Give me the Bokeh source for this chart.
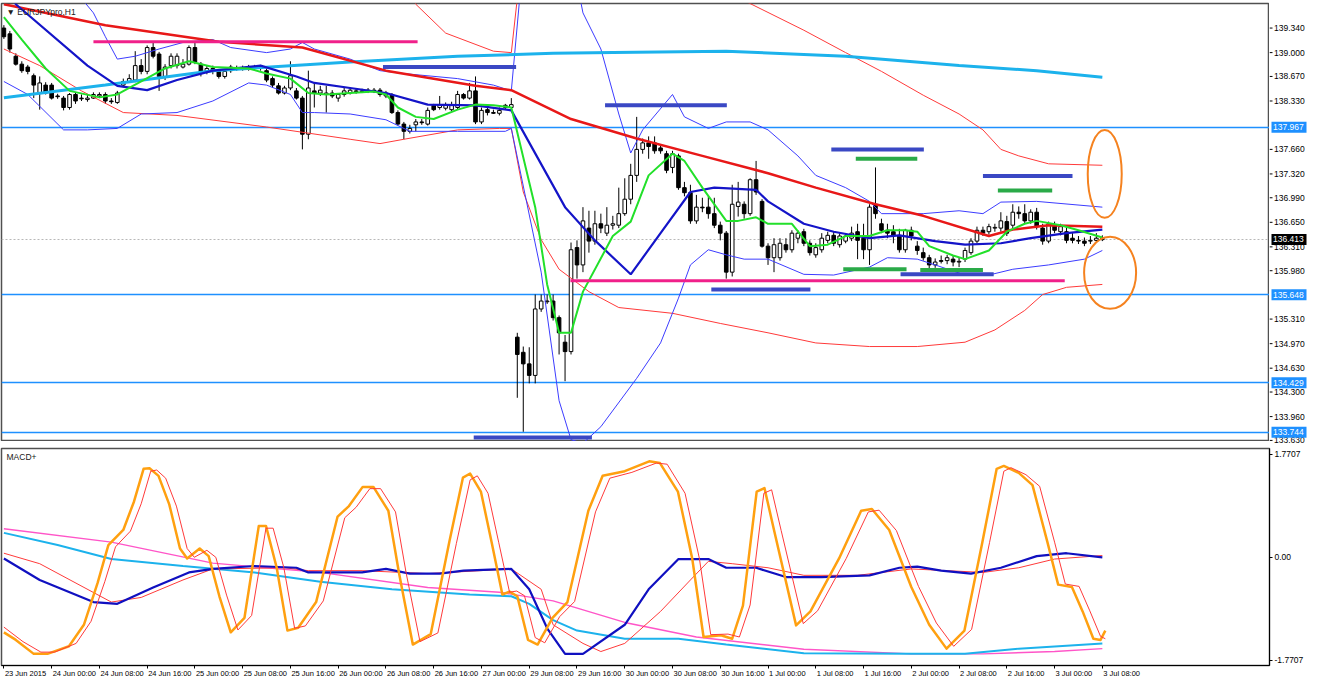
from bokeh.plotting import figure
from bokeh.models import Range1d, FixedTicker, LinearAxis
from bokeh.layouts import column, row
from bokeh.core.properties import value
from bokeh.embed import file_html
from bokeh.resources import INLINE

FONT = "Liberation Sans"

# ---------------- candles (EURJPY H1) ----------------
opens = [
    139.34, 139.26, 138.95, 138.84, 138.80, 138.68, 138.44, 138.55, 138.55, 138.40,
    138.37, 138.24, 138.42, 138.37, 138.35, 138.37, 138.40, 138.42, 138.33, 138.31,
    138.55, 138.60, 138.62, 138.82, 138.74, 139.07, 138.98, 138.67, 138.82, 138.82,
    138.80, 138.84, 139.07, 138.84, 138.74, 138.78, 138.74, 138.67, 138.75, 138.78,
    138.78, 138.79, 138.78, 138.78, 138.75, 138.64, 138.54, 138.44, 138.51, 138.47,
    138.37, 137.87, 138.47, 138.44, 138.42, 138.44, 138.37, 138.42, 138.44, 138.46,
    138.47, 138.47, 138.48, 138.48, 138.40, 138.42, 138.17, 138.01, 137.91, 138.00,
    138.04, 138.01, 138.27, 138.24, 138.23, 138.21, 138.24, 138.42, 138.37, 138.47,
    138.04, 138.21, 138.17, 138.16, 138.24, 138.24, 135.06, 134.85, 134.69, 134.53,
    135.45, 135.55, 135.56, 135.33, 134.99, 134.86, 136.30, 136.06, 136.57, 136.39,
    136.63, 136.50, 136.61, 136.61, 136.77, 136.97, 137.30, 137.66, 137.75, 137.75,
    137.68, 137.60, 137.41, 137.57, 137.13, 137.06, 136.67, 136.86, 136.86, 136.77,
    136.61, 136.50, 135.96, 136.87, 136.90, 136.77, 137.24, 136.94, 136.32, 136.16,
    136.16, 136.34, 136.27, 136.43, 136.52, 136.36, 136.20, 136.27, 136.40, 136.47,
    136.34, 136.39, 136.43, 136.52, 136.43, 136.27, 136.90, 136.63, 136.54, 136.52,
    136.47, 136.27, 136.54, 136.32, 136.23, 136.16, 136.06, 136.12, 136.12, 136.14,
    136.10, 136.14, 136.23, 136.39, 136.54, 136.52, 136.57, 136.57, 136.66, 136.61,
    136.79, 136.77, 136.67, 136.79, 136.57, 136.39, 136.61, 136.52, 136.52, 136.43,
    136.40, 136.39, 136.39, 136.40, 136.43,
]
highs = [
    139.38, 139.30, 138.99, 138.88, 138.83, 138.71, 138.67, 138.59, 138.58, 138.43,
    138.40, 138.44, 138.45, 138.42, 138.42, 138.45, 138.45, 138.45, 138.37, 138.47,
    138.64, 138.70, 139.02, 138.91, 139.10, 139.14, 139.01, 138.84, 138.99, 138.99,
    138.91, 139.10, 139.14, 138.87, 138.82, 138.82, 138.76, 138.76, 138.83, 138.82,
    138.82, 138.83, 138.83, 138.83, 138.78, 138.67, 138.58, 138.54, 138.88, 138.51,
    138.40, 138.75, 138.58, 138.54, 138.54, 138.48, 138.44, 138.51, 138.52, 138.50,
    138.50, 138.51, 138.51, 138.51, 138.47, 138.44, 138.20, 138.04, 138.00, 138.08,
    138.08, 138.24, 138.29, 138.40, 138.31, 138.32, 138.47, 138.44, 138.58, 138.67,
    138.24, 138.24, 138.21, 138.24, 138.29, 138.37, 135.12, 134.93, 134.92, 135.65,
    135.65, 135.65, 135.65, 135.36, 135.09, 136.37, 136.40, 136.86, 136.81, 136.81,
    136.77, 136.86, 136.74, 137.13, 137.26, 137.46, 138.11, 137.81, 137.84, 137.84,
    137.73, 137.64, 137.64, 137.60, 137.21, 137.17, 137.03, 136.99, 137.01, 136.99,
    136.66, 136.53, 137.17, 137.21, 136.94, 137.26, 137.50, 136.97, 136.36, 136.43,
    136.43, 136.43, 136.54, 136.54, 136.56, 136.40, 136.36, 136.50, 136.52, 136.52,
    136.50, 136.50, 136.59, 136.63, 136.63, 136.90, 137.41, 136.70, 136.63, 136.61,
    136.56, 136.56, 136.59, 136.39, 136.30, 136.20, 136.15, 136.19, 136.20, 136.19,
    136.16, 136.30, 136.43, 136.59, 136.59, 136.63, 136.63, 136.79, 136.74, 136.90,
    136.87, 136.90, 136.83, 136.85, 136.63, 136.66, 136.66, 136.63, 136.58, 136.50,
    136.46, 136.44, 136.46, 136.50, 136.47,
]
lows = [
    139.19, 139.00, 138.82, 138.72, 138.70, 138.37, 138.21, 138.42, 138.35, 138.36,
    138.20, 138.21, 138.29, 138.33, 138.32, 138.36, 138.37, 138.29, 138.29, 138.29,
    138.52, 138.59, 138.59, 138.70, 138.70, 138.92, 138.47, 138.62, 138.78, 138.78,
    138.78, 138.82, 138.84, 138.67, 138.70, 138.70, 138.64, 138.64, 138.72, 138.75,
    138.75, 138.75, 138.76, 138.75, 138.59, 138.51, 138.42, 138.42, 138.48, 138.35,
    137.66, 137.80, 138.24, 138.40, 138.17, 138.37, 138.32, 138.39, 138.42, 138.43,
    138.44, 138.44, 138.44, 138.39, 138.37, 138.15, 137.99, 137.80, 137.88, 137.91,
    138.00, 137.99, 138.19, 138.21, 138.20, 138.19, 138.21, 138.35, 138.35, 138.01,
    138.01, 138.13, 138.15, 138.13, 138.21, 138.21, 134.22, 133.75, 134.42, 134.42,
    135.41, 135.52, 135.29, 134.82, 134.45, 134.82, 135.87, 135.96, 136.23, 136.34,
    136.50, 136.46, 136.55, 136.57, 136.74, 136.90, 137.21, 137.60, 137.53, 137.60,
    137.60, 137.33, 137.33, 137.10, 137.01, 136.63, 136.63, 136.79, 136.70, 136.57,
    136.40, 135.87, 135.90, 136.73, 136.70, 136.74, 137.03, 136.30, 136.06, 135.96,
    136.12, 136.23, 136.23, 136.36, 136.32, 136.19, 136.16, 136.23, 136.36, 136.32,
    136.30, 136.36, 136.39, 136.14, 136.14, 136.06, 136.70, 136.50, 136.43, 136.36,
    136.23, 136.23, 136.40, 136.20, 136.12, 136.00, 136.02, 136.08, 136.07, 136.04,
    136.03, 136.10, 136.20, 136.36, 136.46, 136.48, 136.52, 136.52, 136.46, 136.57,
    136.70, 136.63, 136.63, 136.55, 136.34, 136.36, 136.50, 136.47, 136.36, 136.36,
    136.35, 136.32, 136.35, 136.38, 136.39,
]
closes = [
    139.22, 139.05, 138.84, 138.75, 138.74, 138.55, 138.58, 138.44, 138.37, 138.39,
    138.24, 138.42, 138.33, 138.36, 138.37, 138.42, 138.42, 138.33, 138.32, 138.44,
    138.60, 138.64, 138.82, 138.74, 139.07, 138.95, 138.67, 138.80, 138.95, 138.95,
    138.84, 139.07, 138.87, 138.71, 138.78, 138.74, 138.67, 138.74, 138.80, 138.77,
    138.79, 138.78, 138.80, 138.80, 138.62, 138.55, 138.44, 138.51, 138.68, 138.37,
    137.87, 138.51, 138.44, 138.48, 138.44, 138.40, 138.42, 138.47, 138.48, 138.47,
    138.46, 138.48, 138.47, 138.42, 138.44, 138.17, 138.01, 137.91, 137.95, 138.04,
    138.03, 138.20, 138.21, 138.28, 138.27, 138.28, 138.42, 138.37, 138.47, 138.04,
    138.20, 138.17, 138.16, 138.20, 138.27, 138.28, 134.82, 134.69, 134.53, 135.45,
    135.56, 135.56, 135.33, 135.12, 134.86, 136.27, 136.06, 136.67, 136.39, 136.63,
    136.57, 136.61, 136.63, 136.77, 136.97, 137.30, 137.66, 137.75, 137.70, 137.64,
    137.64, 137.37, 137.60, 137.13, 137.06, 136.67, 136.86, 136.85, 136.77, 136.61,
    136.50, 135.96, 136.90, 136.93, 136.77, 137.24, 137.07, 136.32, 136.16, 136.34,
    136.36, 136.27, 136.50, 136.50, 136.36, 136.23, 136.30, 136.43, 136.47, 136.36,
    136.46, 136.46, 136.50, 136.40, 136.27, 136.86, 136.77, 136.54, 136.50, 136.47,
    136.27, 136.54, 136.46, 136.26, 136.16, 136.06, 136.10, 136.11, 136.16, 136.10,
    136.11, 136.26, 136.39, 136.54, 136.50, 136.59, 136.58, 136.67, 136.50, 136.79,
    136.77, 136.67, 136.79, 136.59, 136.39, 136.63, 136.54, 136.59, 136.40, 136.40,
    136.39, 136.36, 136.40, 136.43, 136.41,
]

# ---------------- price-panel indicator lines (bar index, price) ----------------
red_ma_x = [0, 17, 36, 50, 64, 79, 85, 95, 106, 117, 128, 136, 146, 154, 165, 169, 175, 184]
red_ma_y = [139.67, 139.38, 139.15, 139.07, 138.75, 138.54, 138.48, 138.08, 137.81, 137.57,
            137.33, 137.13, 136.90, 136.74, 136.46, 136.55, 136.61, 136.59]

blue_ma_x = [0, 2, 14, 19, 24, 29, 35, 43, 49, 52, 58, 64, 71, 79, 85, 94, 99, 105, 110, 115,
             119, 126, 128, 134, 139, 145, 150, 156, 161, 167, 172, 178, 184]
blue_ma_y = [139.95, 139.67, 138.82, 138.54, 138.48, 138.62, 138.75, 138.82, 138.67, 138.58,
             138.51, 138.44, 138.28, 138.27, 138.20, 136.86, 136.40, 135.93, 136.50, 137.07,
             137.13, 137.10, 136.94, 136.63, 136.52, 136.43, 136.47, 136.39, 136.34, 136.36,
             136.43, 136.50, 136.55]

green_ma_x = [0, 3, 7, 11, 16, 19, 23, 27, 31, 35, 41, 44, 48, 51, 54, 58, 62, 64, 66,
              69, 72, 76, 79, 82, 85, 89, 91, 93, 95, 97, 102, 105, 108, 112, 114, 117, 121, 123, 126,
              128, 132, 135, 138, 141, 145, 148, 151, 153, 155, 159, 161, 165, 168, 171, 173, 177, 180, 184]
green_ma_y = [139.49, 139.18, 138.78, 138.47, 138.38, 138.42, 138.60, 138.78, 138.88, 138.80,
              138.78, 138.71, 138.64, 138.44, 138.42, 138.44, 138.46, 138.42, 138.24,
              138.11, 138.08, 138.21, 138.28, 138.27, 138.24, 136.86, 135.79, 135.12, 135.12,
              135.69, 136.46, 136.66, 137.30, 137.60, 137.50, 137.13, 136.67, 136.67, 136.72,
              136.63, 136.63, 136.32, 136.34, 136.46, 136.46, 136.54, 136.54, 136.52, 136.32,
              136.19, 136.14, 136.26, 136.52, 136.63, 136.67, 136.61, 136.54, 136.44]

cyan_ma_x = [0, 17, 35, 58, 76, 92, 102, 121, 141, 160, 173, 184]
cyan_ma_y = [138.375, 138.55, 138.75, 138.87, 138.95, 138.99, 139.00, 139.02, 138.95, 138.82,
             138.75, 138.66]

bb_up_x = [13, 15, 17, 19, 22, 26, 30, 35, 38, 44, 48, 50, 52, 58, 63, 67, 76, 82, 85, 87,
           90, 94, 97, 100, 103, 105, 107, 112, 114, 118, 121, 125, 128, 133, 136, 141, 145, 147,
           154, 160, 164, 167, 173, 184]
bb_up_y = [139.75, 139.55, 139.22, 138.91, 138.95, 139.05, 139.14, 139.18, 139.07, 139.00,
           139.05, 139.14, 139.05, 138.91, 138.75, 138.71, 138.64, 138.55, 138.47, 140.30,
           141.50, 140.80, 139.55, 139.05, 138.15, 137.61, 137.93, 138.42, 138.11, 137.95,
           138.04, 138.04, 137.93, 137.57, 137.30, 137.13, 136.94, 136.77, 136.77, 136.81,
           136.77, 136.93, 136.94, 136.86]
bb_lo_x = [0, 4, 10, 14, 19, 23, 29, 35, 41, 44, 48, 50, 52, 58, 64, 68, 76, 84, 85, 90,
           93, 95, 97, 100, 106, 110, 113, 115, 118, 121, 124, 128, 134, 139, 145, 148, 153, 156,
           161, 165, 169, 175, 181, 184]
bb_lo_y = [138.60, 138.42, 137.93, 137.93, 137.95, 138.15, 138.17, 138.33, 138.58, 138.55,
           138.42, 138.17, 138.17, 138.15, 138.07, 137.91, 137.91, 137.91, 137.95, 135.96,
           134.18, 133.64, 133.59, 133.82, 134.49, 134.98, 135.60, 136.06, 136.27, 136.20,
           136.14, 136.14, 135.93, 135.92, 136.03, 136.16, 136.14, 136.06, 135.92, 135.92,
           136.00, 136.06, 136.14, 136.26]

env_up_x = [67, 69, 74, 82, 85, 87, 100, 118, 124, 134, 141, 147, 154, 160, 164, 167, 170, 175, 184]
env_up_y = [140.10, 139.67, 139.27, 139.02, 139.00, 140.50, 142.50, 140.60, 139.72, 139.31,
            139.00, 138.74, 138.41, 138.15, 137.93, 137.66, 137.57, 137.46, 137.44]
env_lo_x = [0, 6, 13, 20, 29, 44, 58, 63, 67, 76, 83, 85, 87, 90, 93, 98, 103, 112, 120, 128,
            136, 145, 153, 161, 166, 171, 174, 178, 184]
env_lo_y = [139.05, 138.82, 138.47, 138.17, 138.13, 137.97, 137.80, 137.74, 137.80, 137.93,
            137.95, 137.95, 137.07, 136.41, 136.00, 135.69, 135.47, 135.39, 135.25, 135.12,
            134.98, 134.93, 134.93, 134.99, 135.16, 135.43, 135.65, 135.75, 135.79]

# ---------------- horizontal levels & drawn objects ----------------
level_prices = [137.967, 135.648, 134.429, 133.744]
current_price = 136.413

magenta_x0 = [15.0, 94.9]
magenta_x1 = [69.3, 177.7]
magenta_y = [139.15, 135.84]
blue_seg_x0 = [63.5, 100.7, 78.7, 118.5, 138.6, 164.0, 150.2]
blue_seg_x1 = [85.8, 121.1, 98.5, 135.1, 154.1, 179.0, 165.8]
blue_seg_y = [138.80, 138.27, 133.67, 135.72, 137.66, 137.29, 135.93]
green_seg_x0 = [142.7, 166.5, 140.6, 153.5]
green_seg_x1 = [153.0, 175.6, 151.2, 164.0]
green_seg_y = [137.53, 137.09, 136.00, 135.99]

ellipse_x = [184.4, 185.3]
ellipse_y = [137.32, 135.95]
ellipse_w = [34, 52]
ellipse_h = [88, 72]

price_ticks = [139.340, 139.000, 138.670, 138.330, 137.660, 137.320, 136.990, 136.650,
               136.310, 135.980, 135.310, 134.970, 134.630, 134.300, 133.960, 133.630]

# ---------------- MACD panel ----------------
macd_x = [0, 2.0, 5.0, 7.3, 10.9, 13.4, 15.7, 17.5, 20.0, 21.8, 23.4, 24.4, 25.9, 27.7, 29.5,
          30.7, 32.8, 34.3, 36.1, 38.0, 40.3, 42.7, 43.9, 45.7, 47.5, 49.3, 52.3, 55.9, 57.8,
          60.1, 61.9, 64.4, 66.2, 68.5, 71.5, 74.6, 76.9, 78.1, 79.9, 81.7, 83.5, 84.7, 86.0,
          87.8, 89.4, 91.9, 94.4, 97.9, 100.3, 104.0, 108.1, 109.9, 112.9, 115.3, 117.2, 120.1,
          122.0, 123.8, 126.1, 127.4, 129.0, 132.7, 135.1, 139.9, 143.6, 145.4, 148.3, 152.0,
          155.0, 157.9, 160.9, 163.9, 166.3, 167.5, 170.0, 172.3, 174.8, 176.6, 178.9, 180.7,
          182.5, 183.7, 184.5]
macd_y = [-1.29, -1.42, -1.66, -1.66, -1.53, -1.16, -0.44, 0.21, 0.47, 0.96, 1.52, 1.53, 1.40,
          0.91, 0.15, -0.02, 0.15, 0.02, -0.67, -1.29, -1.04, 0.54, 0.54, -0.18, -1.26, -1.21,
          -0.77, 0.70, 0.88, 1.21, 1.21, 0.80, -0.28, -1.50, -1.32, 0.26, 1.37, 1.44, 1.13,
          0.26, -0.64, -0.59, -0.67, -1.42, -1.50, -1.04, -0.77, 0.80, 1.40, 1.48, 1.65, 1.62,
          1.13, -0.02, -1.37, -1.34, -1.40, -0.83, 1.13, 1.19, 0.47, -1.17, -0.93, -0.02, 0.80,
          0.83, 0.47, -0.51, -1.16, -1.57, -1.26, 0.26, 1.52, 1.57, 1.45, 1.24, 0.26, -0.47,
          -0.51, -0.93, -1.40, -1.42, -1.26]
sig_x = [0, 3.2, 6.2, 8.5, 12.1, 14.6, 16.9, 18.7, 21.2, 23.0, 24.6, 25.6, 27.1, 28.9, 30.7,
         31.9, 34.0, 35.5, 37.3, 39.2, 41.5, 43.9, 45.1, 46.9, 48.7, 50.5, 53.5, 57.1, 59.0,
         61.3, 63.1, 65.6, 67.4, 69.7, 72.7, 75.8, 78.1, 79.3, 81.1, 82.9, 84.7, 85.9, 87.2,
         89.0, 90.6, 93.1, 95.6, 99.1, 101.5, 105.2, 109.3, 111.1, 114.1, 116.5, 118.4, 121.3,
         123.2, 125.0, 127.3, 128.6, 130.2, 133.9, 136.3, 141.1, 144.8, 146.6, 149.5, 153.2,
         156.2, 159.1, 162.1, 165.1, 167.5, 168.7, 171.2, 173.5, 176.0, 177.8, 180.1, 181.9,
         183.7, 184.5]
sig_y = [-1.20, -1.45, -1.63, -1.63, -1.48, -1.10, -0.42, 0.18, 0.45, 0.92, 1.48, 1.50, 1.36,
         0.88, 0.15, 0.00, 0.12, 0.00, -0.65, -1.25, -1.00, 0.50, 0.50, -0.18, -1.22, -1.18,
         -0.75, 0.68, 0.86, 1.18, 1.18, 0.78, -0.28, -1.45, -1.30, 0.24, 1.33, 1.40, 1.10,
         0.25, -0.60, -0.58, -0.66, -1.38, -1.47, -1.02, -0.76, 0.78, 1.36, 1.46, 1.62, 1.60,
         1.10, -0.02, -1.33, -1.32, -1.37, -0.82, 1.10, 1.16, 0.46, -1.14, -0.92, -0.02, 0.78,
         0.81, 0.46, -0.50, -1.13, -1.53, -1.24, 0.25, 1.48, 1.54, 1.42, 1.22, 0.26, -0.46,
         -0.50, -0.92, -1.36, -1.40]
slow_x = [0, 6, 15, 19, 25, 31, 35, 42, 49, 51, 60, 64, 68, 73, 77, 85, 88, 91, 94, 97,
          104, 108, 113, 118, 121, 126, 131, 137, 145, 150, 153, 157, 162, 167, 173, 178, 184]
slow_y = [-0.02, -0.39, -0.77, -0.80, -0.52, -0.26, -0.20, -0.15, -0.18, -0.26,
          -0.26, -0.20, -0.28, -0.28, -0.23, -0.20, -0.55, -1.22, -1.66, -1.66,
          -1.16, -0.55, -0.03, -0.03, -0.18, -0.18, -0.34, -0.34, -0.31, -0.18,
          -0.16, -0.23, -0.28, -0.18, 0.02, 0.07, 0.00]
slow_sig_x = [0, 6, 18, 23, 30, 35, 47, 51, 60, 71, 85, 90, 92, 97, 100, 104, 110, 115, 118, 122,
              128, 134, 143, 152, 158, 164, 170, 176, 184]
slow_sig_y = [0.07, -0.11, -0.77, -0.69, -0.39, -0.20, -0.18, -0.23, -0.23, -0.28,
              -0.20, -0.55, -1.16, -1.48, -1.62, -1.48, -0.93, -0.39, -0.07, -0.11,
              -0.18, -0.31, -0.31, -0.20, -0.23, -0.26, -0.18, -0.03, 0.03]
pink_x = [0, 18, 35, 53, 71, 83, 92, 104, 116, 134, 152, 164, 176, 184]
pink_y = [0.49, 0.26, -0.10, -0.26, -0.52, -0.60, -0.75, -1.12, -1.37, -1.58, -1.66, -1.66, -1.62, -1.57]
aqua_x = [0, 9, 18, 30, 42, 53, 65, 78, 85, 88, 92, 96, 104, 113, 121, 134, 152, 161, 170, 184]
aqua_y = [0.42, 0.21, -0.03, -0.15, -0.26, -0.42, -0.55, -0.64, -0.67, -0.80,
          -1.08, -1.26, -1.40, -1.40, -1.50, -1.65, -1.66, -1.66, -1.57, -1.48]
macd_ticks = [1.7707, 0.0, -1.7707]
macd_tick_labels = ["1.7707", "0.00", "-1.7707"]

time_tick_bars = list(range(0, 185, 8))
time_labels = ["23 Jun 2015", "24 Jun 00:00", "24 Jun 08:00", "24 Jun 16:00", "25 Jun 00:00",
               "25 Jun 08:00", "25 Jun 16:00", "26 Jun 00:00", "26 Jun 08:00", "26 Jun 16:00",
               "27 Jun 00:00", "29 Jun 08:00", "29 Jun 16:00", "30 Jun 00:00", "30 Jun 08:00",
               "30 Jun 16:00", "1 Jul 00:00", "1 Jul 08:00", "1 Jul 16:00", "2 Jul 00:00",
               "2 Jul 08:00", "2 Jul 16:00", "3 Jul 00:00", "3 Jul 08:00"]

# ---------------- layout constants ----------------
X_START, X_END = -0.4, 212.0
P_LO, P_HI = 133.615, 139.68
M_LO, M_HI = -1.86, 1.87
FW = 1268          # plot frame width
RB = 38            # right axis strip width
MAIN_H = 438       # price frame height
EXTRA = 6          # axis strip extends below the price frame (room for 133.630)
MACD_H = 217
AX_FS = "8.5px"
X_FS = 7.5


def style_axis(ax, size):
    ax.major_label_text_font = FONT
    ax.major_label_text_font_size = size
    ax.major_label_text_color = "black"
    ax.axis_line_color = "black"
    ax.major_tick_line_color = "black"
    ax.major_tick_out = 3
    ax.major_tick_in = 0
    ax.minor_tick_line_color = None
    ax.major_label_standoff = 2


# ================= price panel =================
p = figure(frame_width=FW, frame_height=MAIN_H, x_range=Range1d(X_START, X_END),
           y_range=Range1d(P_LO, P_HI), y_axis_location=None, x_axis_location=None,
           output_backend="svg", toolbar_location=None,
           min_border_left=1, min_border_right=0, min_border_top=3, min_border_bottom=0,
           outline_line_color="#505050", outline_line_width=1.5,
           background_fill_color="white", border_fill_color="white")
p.grid.visible = False

for lv in level_prices:
    p.hspan(y=[lv], line_color="#1E90FF", line_width=1.5)
p.hspan(y=[current_price], line_color="#B8B8B8", line_width=1, line_dash="2 2")

bars = list(range(len(closes)))
up = [i for i in bars if closes[i] >= opens[i]]
dn = [i for i in bars if closes[i] < opens[i]]
p.segment(x0=bars, y0=lows, x1=bars, y1=highs, line_color="black", line_width=1)
p.vbar(x=[bars[i] for i in up], top=[closes[i] for i in up], bottom=[opens[i] for i in up],
       width=0.6, fill_color="white", line_color="black", line_width=1)
p.vbar(x=[bars[i] for i in dn], top=[opens[i] for i in dn], bottom=[closes[i] for i in dn],
       width=0.6, fill_color="black", line_color="black", line_width=1)

p.line(env_up_x, env_up_y, line_color="#FF3A3A", line_width=1)
p.line(env_lo_x, env_lo_y, line_color="#FF3A3A", line_width=1)
p.line(bb_up_x, bb_up_y, line_color="#3C3CFF", line_width=1)
p.line(bb_lo_x, bb_lo_y, line_color="#3C3CFF", line_width=1)
p.line(cyan_ma_x, cyan_ma_y, line_color="#1CB2EC", line_width=3)
p.line(red_ma_x, red_ma_y, line_color="#E81818", line_width=2.5)
p.line(blue_ma_x, blue_ma_y, line_color="#1414C8", line_width=2.2)
p.line(green_ma_x, green_ma_y, line_color="#22E02A", line_width=2)

p.segment(x0=magenta_x0, y0=magenta_y, x1=magenta_x1, y1=magenta_y,
          line_color="#F0208A", line_width=3)
p.segment(x0=blue_seg_x0, y0=blue_seg_y, x1=blue_seg_x1, y1=blue_seg_y,
          line_color="#3A48C4", line_width=4)
p.segment(x0=green_seg_x0, y0=green_seg_y, x1=green_seg_x1, y1=green_seg_y,
          line_color="#2AAA48", line_width=4)

p.ellipse(x=ellipse_x, y=ellipse_y, width=ellipse_w, height=ellipse_h,
          width_units="screen", height_units="screen",
          fill_color=None, line_color="#F5821F", line_width=2)

p.text(x=[X_START], y=[P_HI], text=["\u25BC EURJPYpro,H1"], x_offset=5, y_offset=3,
       text_baseline="top", text_font=value(FONT), text_font_size="8.5px", text_color="#202020")

# ---- right price scale strip (same price scale, 1 x-unit = 1 px) ----
px_per_price = MAIN_H / (P_HI - P_LO)
a = figure(frame_width=RB, frame_height=MAIN_H + EXTRA, x_range=Range1d(0, RB),
           y_range=Range1d(P_LO - EXTRA / px_per_price, P_HI),
           x_axis_location=None, y_axis_location=None, output_backend="svg",
           toolbar_location=None, min_border_left=0, min_border_right=0,
           min_border_top=3, min_border_bottom=0, outline_line_color=None,
           background_fill_color="white", border_fill_color="white")
a.grid.visible = False
a.segment(x0=[0] * len(price_ticks), y0=price_ticks, x1=[3] * len(price_ticks), y1=price_ticks,
          line_color="black", line_width=1)
a.text(x=[4.5] * len(price_ticks), y=price_ticks, text=[f"{t:.3f}" for t in price_ticks],
       text_baseline="middle", text_align="left", text_font=value(FONT),
       text_font_size=AX_FS, text_color="black")
a.rect(x=[19.5] * len(level_prices), y=level_prices, width=35, height=11,
       height_units="screen", fill_color="#1E90FF", line_color=None)
a.text(x=[3.5] * len(level_prices), y=level_prices, text=[f"{lv:.3f}" for lv in level_prices],
       text_baseline="middle", text_align="left", text_font=value(FONT),
       text_font_size=AX_FS, text_color="white")
a.rect(x=[19.5], y=[current_price], width=35, height=11, height_units="screen",
       fill_color="black", line_color=None)
a.text(x=[3.5], y=[current_price], text=[f"{current_price:.3f}"],
       text_baseline="middle", text_align="left", text_font=value(FONT),
       text_font_size=AX_FS, text_color="white")

# ================= MACD panel =================
m = figure(frame_width=FW, frame_height=MACD_H, x_range=p.x_range, y_range=Range1d(M_LO, M_HI),
           y_axis_location="right", x_axis_location="below",
           output_backend="svg", toolbar_location=None,
           min_border_left=1, min_border_right=RB, min_border_top=1, min_border_bottom=14,
           outline_line_color="#505050", outline_line_width=1.5,
           background_fill_color="white", border_fill_color="white")
m.grid.visible = False
may = m.yaxis[0]
may.ticker = FixedTicker(ticks=macd_ticks)
may.major_label_overrides = {t: s for t, s in zip(macd_ticks, macd_tick_labels)}
style_axis(may, AX_FS)

# tick marks at the exact times, labels start at each tick (MT4 style)
xt = m.xaxis[0]
xt.ticker = FixedTicker(ticks=time_tick_bars)
style_axis(xt, "0px")
xt.major_label_standoff = 0
xt.major_label_text_color = None

EM = {"0": .556, "1": .556, "2": .556, "3": .556, "4": .556, "5": .556, "6": .556,
      "7": .556, "8": .556, "9": .556, " ": .278, ":": .278, "J": .5, "u": .556,
      "n": .556, "l": .222}
bars_per_px = (X_END - X_START) / FW
label_pos = [b + (sum(EM.get(ch, .556) for ch in s) * X_FS / 2 + 1) * bars_per_px
             for b, s in zip(time_tick_bars, time_labels)]
xl = LinearAxis(ticker=FixedTicker(ticks=label_pos),
                major_label_overrides={q: s for q, s in zip(label_pos, time_labels)})
style_axis(xl, f"{X_FS}px")
xl.axis_line_color = None
xl.major_tick_line_color = None
xl.major_tick_out = 0
xl.major_label_standoff = 0
m.add_layout(xl, "below")

m.line(pink_x, pink_y, line_color="#FF55C8", line_width=1.4)
m.line(aqua_x, aqua_y, line_color="#1CB2EC", line_width=2)
m.line(slow_sig_x, slow_sig_y, line_color="#FF3A3A", line_width=1)
m.line(slow_x, slow_y, line_color="#1010C0", line_width=2.2)
m.line(macd_x, macd_y, line_color="#FFA010", line_width=2.5, line_join="round")
m.line(sig_x, sig_y, line_color="#FF3A3A", line_width=1)

m.text(x=[X_START], y=[M_HI], text=["MACD+"], x_offset=5, y_offset=3,
       text_baseline="top", text_font=value(FONT), text_font_size="8.5px", text_color="#202020")

layout = column(row(p, a, spacing=0), m, spacing=0)
open("out.html", "w").write(file_html(layout, INLINE))
